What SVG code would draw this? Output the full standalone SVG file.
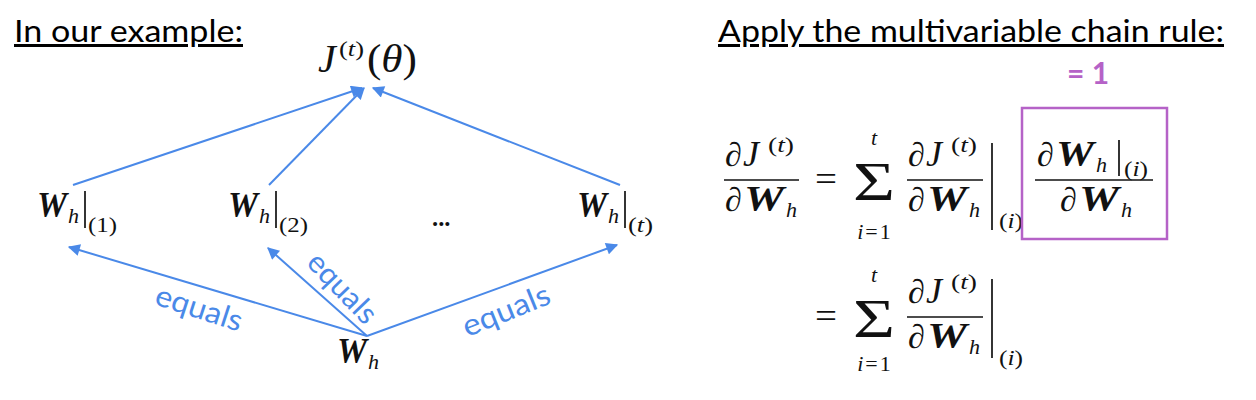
<svg xmlns="http://www.w3.org/2000/svg" width="1256" height="400" viewBox="0 0 1256 400">
<defs>
<style>
.title{font-family:Lato,"Open Sans","Liberation Sans",sans-serif;font-size:30px;fill:#000;text-decoration:underline}
.m{font-family:"Liberation Serif","DejaVu Serif",serif;font-size:34px;fill:#111}
.i{font-style:italic}
.b{font-weight:bold;font-style:italic;font-size:36px}
.s{font-size:22px}
.bar{stroke:#111;stroke-width:1.4}
.eb{stroke:#111;stroke-width:1.7}
.edge{stroke:#4A89E8;stroke-width:2;fill:none;marker-end:url(#ah)}
.lbl{font-family:Lato,"Open Sans","Liberation Sans",sans-serif;font-size:30px;fill:#4A89E8}
.pur{font-family:Lato,"Open Sans","Liberation Sans",sans-serif;font-size:30px;font-weight:bold;fill:#B562C7}
</style>
<marker id="ah" viewBox="0 0 10 10" refX="9" refY="5" markerWidth="7" markerHeight="6" orient="auto" markerUnits="strokeWidth">
<path d="M0,0 L10,5 L0,10 z" fill="#4A89E8"/>
</marker>
</defs>
<rect width="1256" height="400" fill="#fff"/>

<text class="title" x="14" y="42" textLength="229" lengthAdjust="spacingAndGlyphs">In our example:</text>
<text class="title" x="718" y="42" textLength="506" lengthAdjust="spacingAndGlyphs">Apply the multivariable chain rule:</text>

<g id="connectors">
<line class="edge" x1="73" y1="185" x2="362" y2="88"/>
<line class="edge" x1="269" y1="185" x2="364" y2="88"/>
<line class="edge" x1="620" y1="185" x2="373" y2="88"/>
<line class="edge" x1="367" y1="336" x2="69" y2="247"/>
<line class="edge" x1="367" y1="336" x2="268" y2="248"/>
<line class="edge" x1="367" y1="336" x2="617" y2="245"/>
<text class="lbl" transform="translate(196,318) rotate(18)" text-anchor="middle" textLength="90" lengthAdjust="spacingAndGlyphs">equals</text>
<text class="lbl" transform="translate(335,295) rotate(46)" text-anchor="middle" textLength="86" lengthAdjust="spacingAndGlyphs">equals</text>
<text class="lbl" transform="translate(510,320) rotate(-22)" text-anchor="middle" textLength="92" lengthAdjust="spacingAndGlyphs">equals</text>
</g>

<g id="node-J">
<text class="m i" x="318" y="72" style="font-size:40px">J</text>
<text class="m s" x="339" y="56" textLength="25" lengthAdjust="spacingAndGlyphs">(<tspan class="i">t</tspan>)</text>
<text class="m" x="367" y="72" style="font-size:40px" textLength="50" lengthAdjust="spacingAndGlyphs">(<tspan class="i">θ</tspan>)</text>
</g>

<g id="node-W1">
<text class="m b" x="37" y="217" textLength="30" lengthAdjust="spacingAndGlyphs">W</text>
<text class="m i s" x="68" y="223">h</text>
<line class="eb" x1="85" y1="191" x2="85" y2="228"/>
<text class="m s" x="88" y="232" textLength="29" lengthAdjust="spacingAndGlyphs">(1)</text>
</g>

<g id="node-W2">
<text class="m b" x="228" y="217" textLength="30" lengthAdjust="spacingAndGlyphs">W</text>
<text class="m i s" x="259" y="223">h</text>
<line class="eb" x1="276" y1="191" x2="276" y2="228"/>
<text class="m s" x="279" y="232" textLength="29" lengthAdjust="spacingAndGlyphs">(2)</text>
</g>

<g id="node-dots">
<text x="432" y="226" font-family="Lato,'Liberation Sans',sans-serif" font-size="26" font-weight="bold" fill="#111">...</text>
</g>

<g id="node-Wt">
<text class="m b" x="577" y="217" textLength="30" lengthAdjust="spacingAndGlyphs">W</text>
<text class="m i s" x="608" y="223">h</text>
<line class="eb" x1="625" y1="191" x2="625" y2="228"/>
<text class="m s" x="628" y="232" textLength="25" lengthAdjust="spacingAndGlyphs">(<tspan class="i">t</tspan>)</text>
</g>

<g id="node-Wh">
<text class="m b" x="337" y="363" textLength="30" lengthAdjust="spacingAndGlyphs">W</text>
<text class="m i s" x="368" y="369">h</text>
</g>

<g id="formula1">
<text class="m i" x="725" y="166">∂</text>
<text class="m i" x="743" y="166" style="font-size:36px">J</text>
<text class="m s" x="768" y="152" textLength="26" lengthAdjust="spacingAndGlyphs">(<tspan class="i">t</tspan>)</text>
<line class="bar" x1="724" y1="180" x2="799" y2="180"/>
<text class="m i" x="725" y="211">∂</text>
<text class="m b" x="744" y="211" textLength="40" lengthAdjust="spacingAndGlyphs">W</text>
<text class="m i s" x="786" y="217">h</text>

<text class="m" x="815" y="191" style="font-size:36px" textLength="22" lengthAdjust="spacingAndGlyphs">=</text>
<text class="m" x="853" y="200" style="font-size:54px" textLength="42" lengthAdjust="spacingAndGlyphs">Σ</text>
<text class="m i s" x="874" y="145" text-anchor="middle">t</text>
<text class="m s" x="874" y="239" text-anchor="middle"><tspan class="i">i</tspan><tspan dx="2">=</tspan><tspan dx="2">1</tspan></text>

<text class="m i" x="908" y="166">∂</text>
<text class="m i" x="926" y="166" style="font-size:36px">J</text>
<text class="m s" x="951" y="152" textLength="26" lengthAdjust="spacingAndGlyphs">(<tspan class="i">t</tspan>)</text>
<line class="bar" x1="907" y1="180" x2="983" y2="180"/>
<text class="m i" x="908" y="211">∂</text>
<text class="m b" x="927" y="211" textLength="40" lengthAdjust="spacingAndGlyphs">W</text>
<text class="m i s" x="969" y="217">h</text>
<line class="eb" x1="992" y1="143" x2="992" y2="230"/>
<text class="m s" x="999" y="228" textLength="24" lengthAdjust="spacingAndGlyphs">(<tspan class="i">i</tspan>)</text>
</g>

<g id="box">
<rect x="1022" y="108" width="145" height="131" fill="none" stroke="#B562C7" stroke-width="2.5"/>
<text class="m i" x="1037" y="166">∂</text>
<text class="m b" x="1056" y="166" textLength="38" lengthAdjust="spacingAndGlyphs">W</text>
<text class="m i s" x="1096" y="172">h</text>
<line class="eb" x1="1119" y1="140" x2="1119" y2="176"/>
<text class="m s" x="1124" y="176" textLength="24" lengthAdjust="spacingAndGlyphs">(<tspan class="i">i</tspan>)</text>
<line class="bar" x1="1035" y1="180" x2="1153" y2="180"/>
<text class="m i" x="1060" y="211">∂</text>
<text class="m b" x="1079" y="211" textLength="40" lengthAdjust="spacingAndGlyphs">W</text>
<text class="m i s" x="1121" y="217">h</text>
<text class="pur" x="1067" y="84">= 1</text>
</g>

<g id="formula2">
<text class="m" x="815" y="328" style="font-size:36px" textLength="22" lengthAdjust="spacingAndGlyphs">=</text>
<text class="m" x="853" y="337" style="font-size:54px" textLength="42" lengthAdjust="spacingAndGlyphs">Σ</text>
<text class="m i s" x="874" y="282" text-anchor="middle">t</text>
<text class="m s" x="874" y="371" text-anchor="middle"><tspan class="i">i</tspan><tspan dx="2">=</tspan><tspan dx="2">1</tspan></text>
<text class="m i" x="908" y="303">∂</text>
<text class="m i" x="926" y="303" style="font-size:36px">J</text>
<text class="m s" x="951" y="289" textLength="26" lengthAdjust="spacingAndGlyphs">(<tspan class="i">t</tspan>)</text>
<line class="bar" x1="907" y1="317" x2="983" y2="317"/>
<text class="m i" x="908" y="348">∂</text>
<text class="m b" x="927" y="348" textLength="40" lengthAdjust="spacingAndGlyphs">W</text>
<text class="m i s" x="969" y="354">h</text>
<line class="eb" x1="992" y1="279" x2="992" y2="358"/>
<text class="m s" x="999" y="365" textLength="24" lengthAdjust="spacingAndGlyphs">(<tspan class="i">i</tspan>)</text>
</g>
</svg>
